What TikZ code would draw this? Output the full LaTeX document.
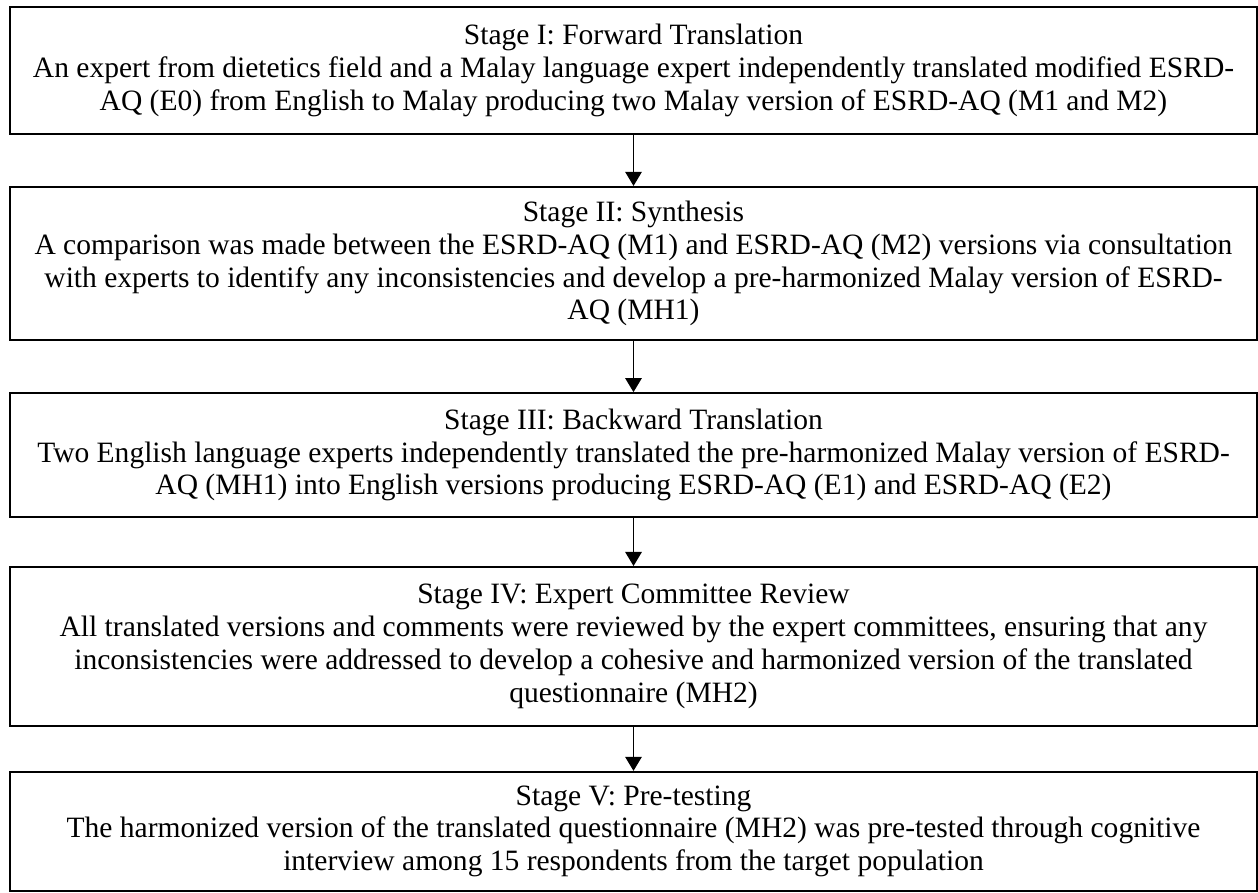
\documentclass[tikz,border=0pt]{standalone}
\usepackage{fontspec}
\setmainfont{Liberation Serif}
\usetikzlibrary{arrows.meta}
\usetikzlibrary{positioning}

\begin{document}
\begin{tikzpicture}[
  stagebox/.style={
    draw,
    line width=0.8pt,
    minimum width=18.705cm,
    align=center,
    inner sep=0pt,
    font=\fontsize{12.6}{14}\selectfont
  },
  arrow/.style={-{Triangle[length=6pt,width=7pt]}, line width=0.7pt}
]
\useasboundingbox (0,0) rectangle (18.87,-13.38);

\node[stagebox, minimum height=1.905cm] (fwd) at (9.5025,-1.0575) {
  Stage I: Forward Translation\\
  An expert from dietetics field and a Malay language expert independently translated modified ESRD-\\
  AQ (E0) from English to Malay producing two Malay version of ESRD-AQ (M1 and M2)
};
\node[stagebox, minimum height=2.3cm, below=0.765cm of fwd] (synth) {
  Stage II: Synthesis\\
  A comparison was made between the ESRD-AQ (M1) and ESRD-AQ (M2) versions via consultation\\
  with experts to identify any inconsistencies and develop a pre-harmonized Malay version of ESRD-\\
  AQ (MH1)
};
\node[stagebox, minimum height=1.86cm, below=0.765cm of synth] (back) {
  Stage III: Backward Translation\\
  Two English language experts independently translated the pre-harmonized Malay version of ESRD-\\
  AQ (MH1) into English versions producing ESRD-AQ (E1) and ESRD-AQ (E2)
};
\node[stagebox, minimum height=2.385cm, below=0.72cm of back] (review) {
  Stage IV: Expert Committee Review\\
  All translated versions and comments were reviewed by the expert committees, ensuring that any\\
  inconsistencies were addressed to develop a cohesive and harmonized version of the translated\\
  questionnaire (MH2)
};
\node[stagebox, minimum height=1.785cm, below=0.66cm of review] (pretest) {
  Stage V: Pre-testing\\
  The harmonized version of the translated questionnaire (MH2) was pre-tested through cognitive\\
  interview among 15 respondents from the target population
};

\draw[arrow] (fwd) -- (synth);
\draw[arrow] (synth) -- (back);
\draw[arrow] (back) -- (review);
\draw[arrow] (review) -- (pretest);

\end{tikzpicture}
\end{document}
